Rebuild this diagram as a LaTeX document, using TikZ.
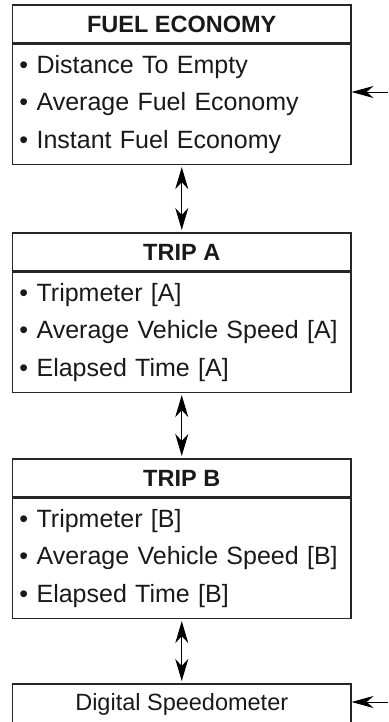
\documentclass[tikz,border=0pt]{standalone}
\usepackage{fontspec}
\setmainfont{Liberation Sans}
\usetikzlibrary{arrows.meta,positioning}

\begin{document}
\begin{tikzpicture}[x=1pt,y=-1pt,
  head/.style={draw=black!85, line width=1.1pt, minimum width=338.5pt, minimum height=38pt, inner sep=0pt, text=black!90, font=\fontsize{23.5}{28}\selectfont\bfseries},
  list/.style={draw=black!85, line width=1.1pt, text width=324.5pt, inner xsep=7pt, inner ysep=0pt, minimum height=120pt, align=left, text=black!90, font=\fontsize{25}{37.5}\selectfont},
  link/.style={line width=0.9pt, {Stealth[length=22pt,width=13pt,inset=7pt]}-{Stealth[length=22pt,width=13pt,inset=7pt]}, shorten <=2.5pt, shorten >=2.5pt},
  feed/.style={line width=0.9pt, -{Stealth[length=22pt,width=12pt,inset=7pt]}}]
\clip (0,0) rectangle (388,722);

\node[head] (fuelhead) at (181.75,24) {FUEL ECONOMY};
\node[list, below=0pt of fuelhead] (fuellist) {• Distance To Empty\\ • Average Fuel Economy\\ • Instant Fuel Economy};

\node[head] (tripahead) at (181.75,252) {TRIP A};
\node[list, below=0pt of tripahead] (tripalist) {• Tripmeter [A]\\ • Average Vehicle Speed [A]\\ • Elapsed Time [A]};

\node[head] (tripbhead) at (181.75,478) {TRIP B};
\node[list, below=0pt of tripbhead] (tripblist) {• Tripmeter [B]\\ • Average Vehicle Speed [B]\\ • Elapsed Time [B]};

% open at the bottom, runs off the page
\node[draw=black!85, line width=1.1pt, minimum width=338.5pt, inner ysep=0pt, text height=26pt, text depth=40pt, anchor=base, text=black!90, font=\fontsize{23.5}{28}\selectfont] (speedo) at (181.75,710) {Digital Speedometer};

\draw[link] (fuellist) -- (tripahead);
\draw[link] (tripalist) -- (tripbhead);
\draw[link] (tripblist) -- (speedo);

\coordinate (fuelin) at (388,92);
\coordinate (speedoin) at (388,702);
\draw[feed] (fuelin) -- (fuelin -| fuellist.east);
\draw[feed] (speedoin) -- (speedoin -| speedo.east);
\end{tikzpicture}
\end{document}
